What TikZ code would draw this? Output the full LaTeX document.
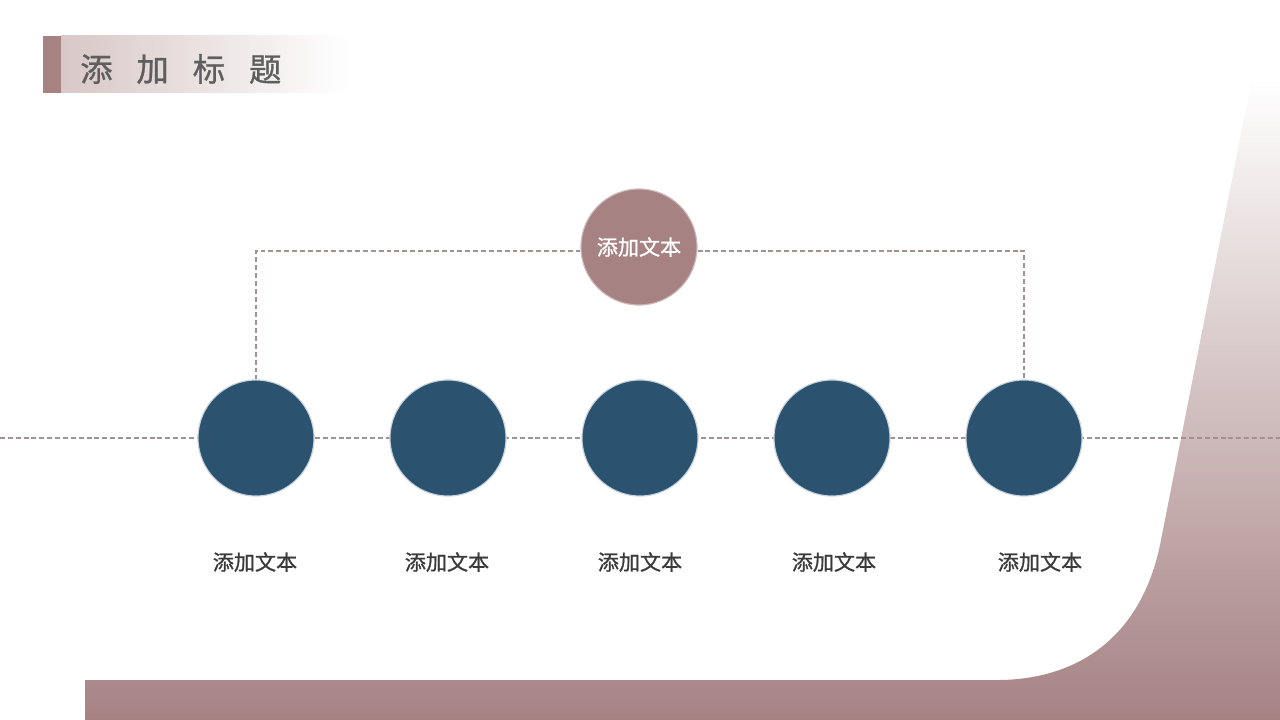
\documentclass[tikz,border=0pt]{standalone}
\usepackage{fontspec}
\newfontfamily\cjk{Noto Sans CJK SC}
\newfontfamily\cjkmed[FakeBold=0.9]{Noto Sans CJK SC}
\usetikzlibrary{positioning}

\definecolor{mauve}{HTML}{A68283}
\definecolor{bandlight}{HTML}{D8C7C7}
\definecolor{navy}{HTML}{2B5370}
\definecolor{navyrim}{HTML}{C9D4DE}
\definecolor{dashline}{HTML}{A48F93}
\definecolor{capgray}{HTML}{3A3A3A}
\definecolor{headgray}{HTML}{5E5E5E}

\begin{document}
\begin{tikzpicture}[
		x=0.025cm, y=-0.025cm,
		hub/.style={circle, fill=mauve, draw=mauve!55, line width=0.8pt, minimum size=2.9cm, inner sep=0pt,
			text=white, font=\cjkmed\fontsize{15}{15}\selectfont},
		item/.style={circle, fill=navy, draw=navyrim, line width=0.8pt, minimum size=2.9cm, inner sep=0pt},
		caption/.style={text=capgray, font=\cjkmed\fontsize{15}{15}\selectfont},
		heading/.style={anchor=west, inner sep=0pt, text=headgray, font=\cjkmed\fontsize{23}{23}\selectfont},
		link/.style={draw=dashline, dash pattern=on 3.5pt off 2.1pt, line width=1.1pt}
]

\useasboundingbox (0,0) rectangle (1280,720);
\fill[white] (0,0) rectangle (1280,720);

% backdrop
\shade[top color=white, bottom color=mauve]
	(85,680) -- (1000,680) .. controls (1075,679) and (1140,640) .. (1160,545)
	-- (1252,78) -- (1280,78) -- (1280,720) -- (85,720) -- cycle;

% title
\fill[mauve] (43,36) rectangle (61,93);
\shade[left color=bandlight, right color=white] (61,36) rectangle (350,93);
\node [heading] (Head) at (80,69) {添\hspace{17pt}加\hspace{17pt}标\hspace{17pt}题};

\coordinate (LineL) at (0,438);
\coordinate (LineR) at (1280,438);
\draw [link] (LineL) -- (LineR);

\node [hub] (Hub) at (639,247) {添加文本};

\node [item] (C1) at (256,438) {};
\node [item] (C2) at (448,438) {};
\node [item] (C3) at (640,438) {};
\node [item] (C4) at (832,438) {};
\node [item] (C5) at (1024,438) {};

\draw [link] ([yshift=-0.1cm]Hub.west) -| (C1.north);
\draw [link] ([yshift=-0.1cm]Hub.east) -| (C5.north);

\node [caption] (T1) at (255,562) {添加文本};
\node [caption] (T2) at (447,562) {添加文本};
\node [caption] (T3) at (640,562) {添加文本};
\node [caption] (T4) at (834,562) {添加文本};
\node [caption] (T5) at (1040,562) {添加文本};

\end{tikzpicture}
\end{document}
